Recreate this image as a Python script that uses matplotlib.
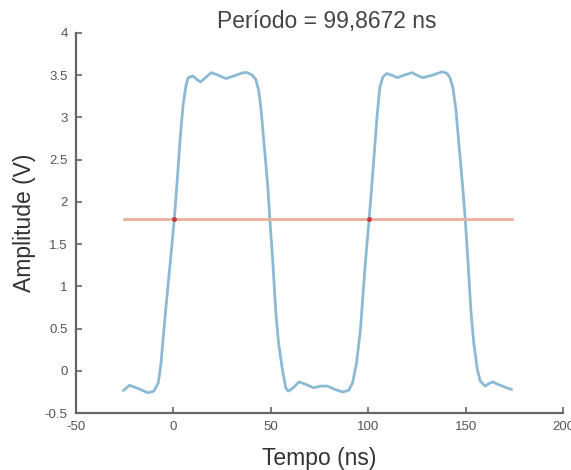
import matplotlib.pyplot as plt
import matplotlib as mpl

mpl.rcParams.update({
    "font.family": ["Liberation Sans", "DejaVu Sans"],
    "axes.linewidth": 1.6,
    "axes.unicode_minus": False,
})

# sinal (ns, V)
tempo = [-25.5, -22.5, -18, -13, -10, -7.7, -6.3, -5.2, -3.6, -1.5,
         0.5, 2, 3.5, 5, 6.5, 7.6, 10, 12, 14, 16.5,
         19.4, 23, 27, 31, 36, 38, 40.5, 42.3, 43.8, 45,
         46.5, 48.5, 49.5, 51, 52.5, 54, 56, 57.7, 59, 61.5,
         64.5, 68, 72, 75.5, 79, 83, 87, 90, 92, 94,
         96, 97.5, 99, 100.5, 102.6, 104.5, 106, 107.6, 109.5, 112,
         115, 118.5, 122.4, 125, 128, 133, 138, 140.5, 142, 143.5,
         145, 146.5, 148.5, 149.8, 151.2, 152.7, 154.2, 156, 157.5, 160,
         162, 164, 166.5, 169, 171, 173.5]
amplitude = [-0.23, -0.17, -0.21, -0.26, -0.24, -0.14, 0.1, 0.4, 0.8, 1.31,
             1.8, 2.26, 2.75, 3.15, 3.38, 3.47, 3.49, 3.45, 3.42, 3.47,
             3.53, 3.50, 3.46, 3.49, 3.53, 3.53, 3.50, 3.45, 3.32, 3.1,
             2.7, 2.18, 1.8, 1.31, 0.72, 0.33, 0.01, -0.2, -0.24, -0.2,
             -0.13, -0.16, -0.2, -0.18, -0.18, -0.22, -0.25, -0.23, -0.14, 0.09,
             0.48, 0.96, 1.4, 1.8, 2.41, 3.0, 3.36, 3.48, 3.52, 3.5,
             3.47, 3.5, 3.53, 3.5, 3.47, 3.5, 3.54, 3.52, 3.47, 3.35,
             3.1, 2.7, 2.18, 1.8, 1.31, 0.72, 0.33, 0.02, -0.12, -0.18,
             -0.15, -0.13, -0.16, -0.18, -0.2, -0.22]

nivel = 1.8
linha_t = [-25.5, 174]
cruzamentos = [0.5, 100.5]

fig = plt.figure(figsize=(5.71, 4.70), dpi=100)
ax = fig.add_axes([0.133, 0.121, 0.853, 0.809])

ax.plot(tempo, amplitude, color='#8dbad3', lw=2)
ax.plot(linha_t, [nivel, nivel], color='#eab09c', lw=2)
ax.plot(cruzamentos, [nivel, nivel], 'o', color='#c8363f', ms=3.5, mec='none')

ax.set_xlim(-50, 200)
ax.set_ylim(-0.5, 4)
ax.set_xticks([-50, 0, 50, 100, 150, 200])
ax.set_yticks([-0.5, 0, 0.5, 1, 1.5, 2, 2.5, 3, 3.5, 4])
ax.set_yticklabels(['-0.5', '0', '0.5', '1', '1.5', '2', '2.5', '3', '3.5', '4'])

for s in ['top', 'right']:
    ax.spines[s].set_visible(False)
for s in ['left', 'bottom']:
    ax.spines[s].set_color('#666666')
ax.tick_params(direction='in', length=4, width=1.2, colors='#666666',
               labelsize=9.5, labelcolor='#555555', pad=6)

ax.set_xlabel('Tempo (ns)', fontsize=16.5, color='#333333', va='top')
ax.xaxis.set_label_coords(0.5, -0.088)
ax.set_ylabel('Amplitude (V)', fontsize=16.5, color='#333333')
ax.yaxis.set_label_coords(-0.083, 0.5)
ax.set_title('Período = 99,8672 ns', fontsize=16.5, color='#444444',
             x=0.515, pad=3)

fig.savefig('out.png', dpi=100)
